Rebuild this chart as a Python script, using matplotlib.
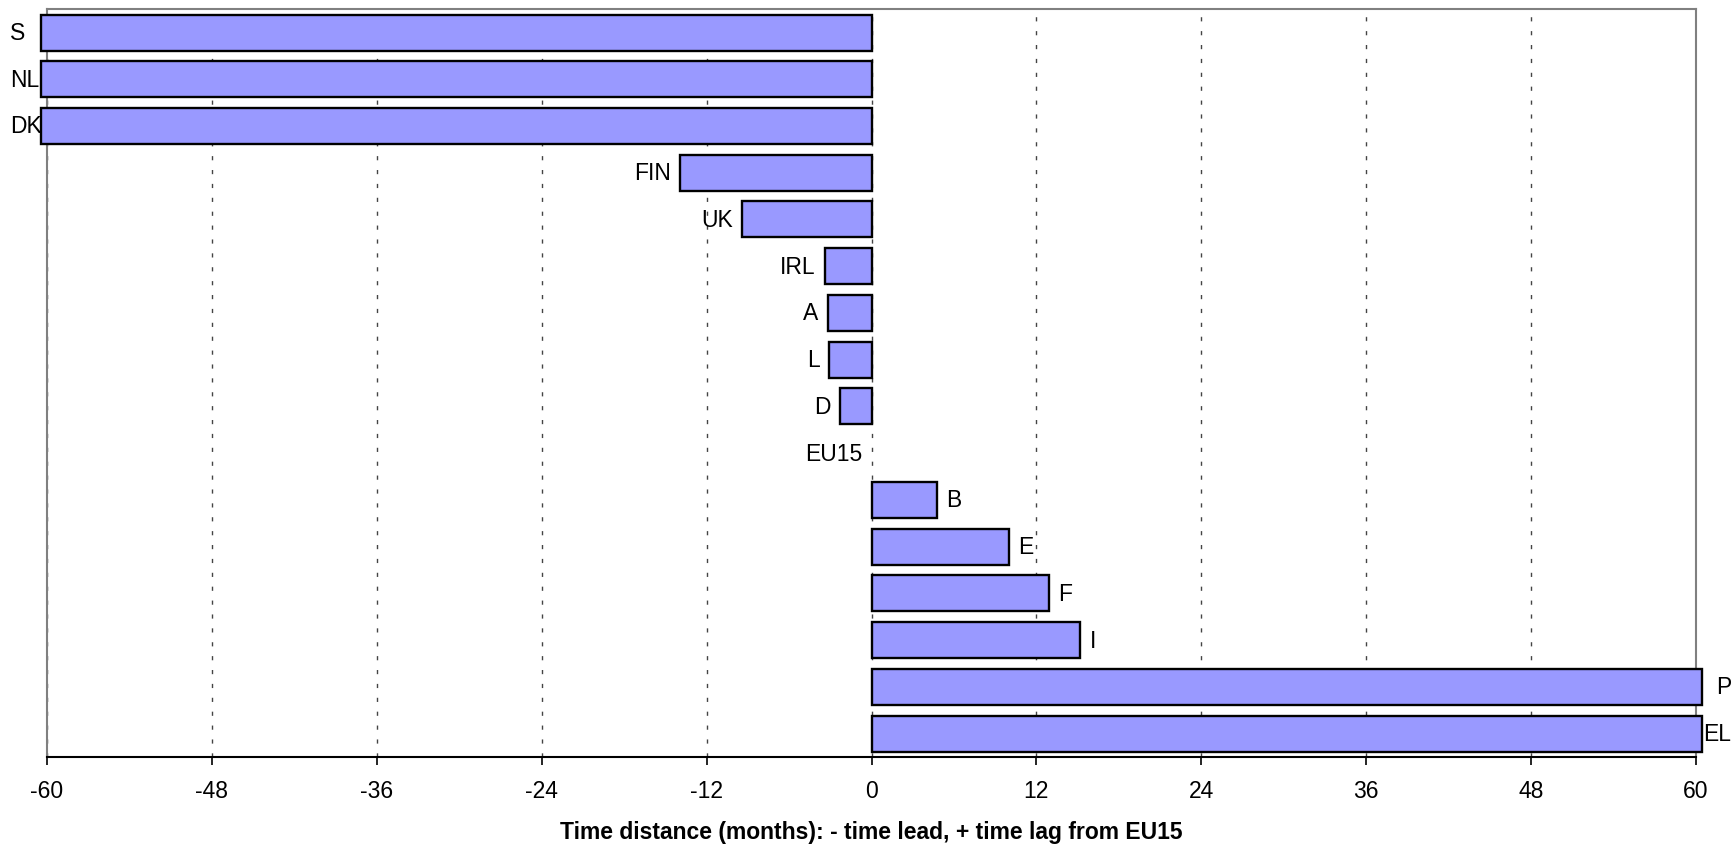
import matplotlib.pyplot as plt
import numpy as np

plt.rcParams['font.family'] = ['Liberation Sans', 'DejaVu Sans']

# Data (months, - = lead, + = lag from EU15); S/NL/DK and P/EL run past the axis
countries = ["S", "NL", "DK", "FIN", "UK", "IRL", "A", "L", "D", "EU15",
             "B", "E", "F", "I", "P", "EL"]
months = [-60.4, -60.4, -60.4, -13.9, -9.4, -3.4, -3.2, -3.1, -2.3, 0.0,
          4.8, 10.0, 12.9, 15.2, 60.4, 60.4]
xticks = [-60, -48, -36, -24, -12, 0, 12, 24, 36, 48, 60]

FS = 16.5

fig = plt.figure(figsize=(17.34, 8.45), dpi=100)
ax = fig.add_axes([0.0271, 0.103, 0.9510, 0.885])

y = np.arange(len(countries))
bars = ax.barh(y, months, height=0.77, color="#9999FF", edgecolor="black",
               linewidth=1.7, zorder=3)
for b, v in zip(bars, months):
    b.set_clip_on(False)
    if v == 0:
        b.set_linewidth(0)

ax.set_xlim(-60, 60)
ax.set_ylim(len(countries) - 0.5, -0.5)
ax.set_xticks(xticks)
ax.set_xticklabels([str(t) for t in xticks], fontsize=FS)
ax.set_yticks([])
ax.tick_params(axis="x", direction="out", length=6, width=1.2, pad=10)

ax.xaxis.grid(True, linestyle=(0, (3, 7)), color="#444444", linewidth=1.0, zorder=0)

for side in ["left", "top", "right"]:
    ax.spines[side].set_color("#808080")
    ax.spines[side].set_linewidth(1.5)
ax.spines["bottom"].set_color("black")
ax.spines["bottom"].set_linewidth(1.5)

ax.set_xlabel("Time distance (months): - time lead, + time lag from EU15",
              fontsize=FS, fontweight="bold", labelpad=13)

# category labels at the bar ends, pushed inside the figure if no room
for yi, name, v in zip(y, countries, months):
    if v <= -60:
        ax.annotate(name, xy=(10, yi), xycoords=("figure pixels", "data"),
                    ha="left", va="center", fontsize=FS)
    elif v >= 60:
        ax.annotate(name, xy=(1731, yi), xycoords=("figure pixels", "data"),
                    ha="right", va="center", fontsize=FS)
    elif v <= 0:
        ax.annotate(name, xy=(v, yi), xytext=(-9, 0), textcoords="offset pixels",
                    ha="right", va="center", fontsize=FS)
    else:
        ax.annotate(name, xy=(v, yi), xytext=(9, 0), textcoords="offset pixels",
                    ha="left", va="center", fontsize=FS)

fig.savefig("out.png", dpi=100)
